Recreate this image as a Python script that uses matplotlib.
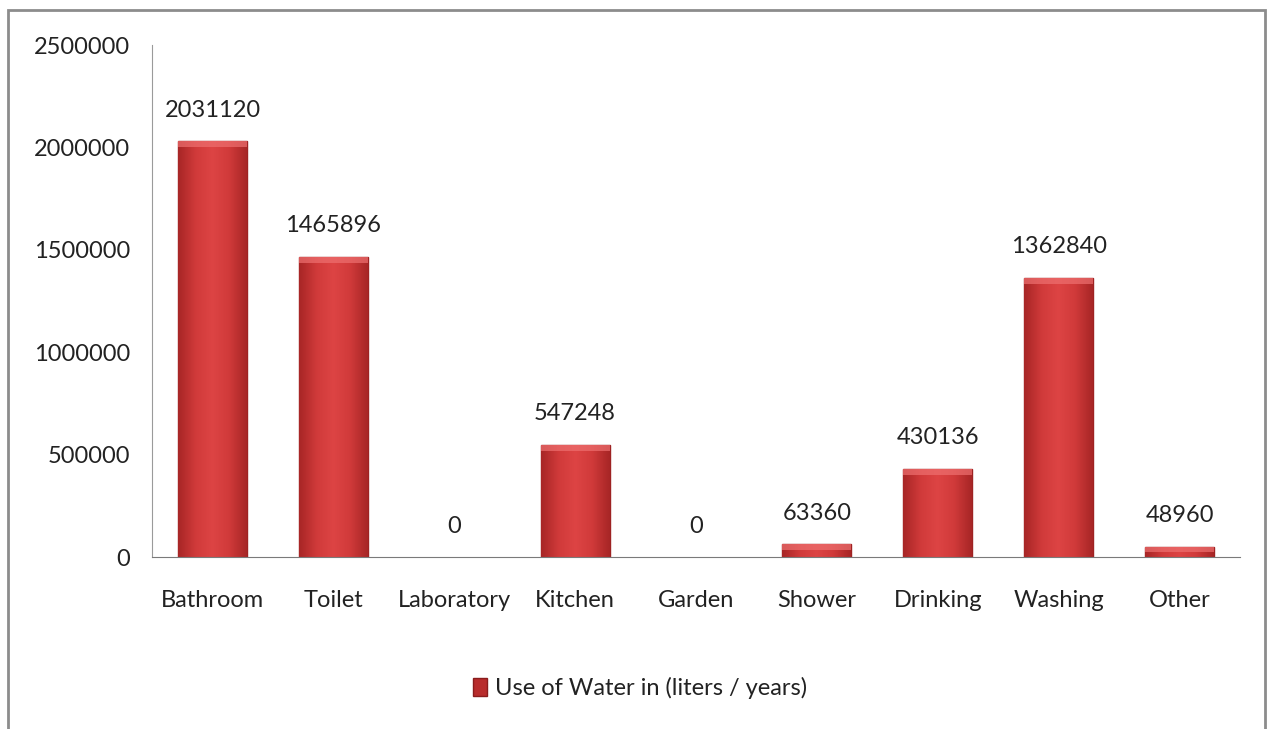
import numpy as np
import matplotlib.pyplot as plt
from matplotlib.colors import LinearSegmentedColormap
from matplotlib.patches import Rectangle, Patch

categories = ['Bathroom', 'Toilet', 'Laboratory', 'Kitchen', 'Garden',
              'Shower', 'Drinking', 'Washing', 'Other']
values = [2031120, 1465896, 0, 547248, 0, 63360, 430136, 1362840, 48960]
series_name = 'Use of Water in (liters / years)'
yticks = [0, 500000, 1000000, 1500000, 2000000, 2500000]

plt.rcParams['font.family'] = ['Lato', 'DejaVu Sans']
FS = 17

fig = plt.figure(figsize=(12.67, 7.29), dpi=100)
ax = fig.add_axes([152 / 1267, 1 - 557 / 729, 1088 / 1267, 512 / 729])

x = np.arange(len(categories))
bars = ax.bar(x, values, width=0.57, color='#d63b3b', edgecolor='#9e2222',
              linewidth=[1.0 if v > 0 else 0 for v in values], zorder=2)

# shaded fill: dark at the sides, bright in the middle
cmap = LinearSegmentedColormap.from_list(
    'bar', ['#a82626', '#d03a3a', '#dd4444', '#d03a3a', '#a82626'])
grad = np.tile(np.linspace(0, 1, 64), (64, 1))
for b in bars:
    h = b.get_height()
    if h <= 0:
        continue
    x0, w = b.get_x(), b.get_width()
    im = ax.imshow(grad, cmap=cmap, aspect='auto', zorder=2.5,
                   extent=(x0, x0 + w, 0, h), interpolation='bicubic')
    im.set_clip_path(b)
    # lighter bevel at the top of each bar
    cap = min(h * 0.5, 2500000 * 0.012)
    ax.add_patch(Rectangle((x0, h - cap), w, cap, facecolor='#ee7070',
                           edgecolor='none', alpha=0.7, zorder=2.6,
                           clip_path=b))

for xi, v in zip(x, values):
    ax.text(xi, v + 2500000 * 0.04, str(v), ha='center', va='bottom',
            fontsize=FS, color='#222222')

ax.set_xlim(-0.5, len(categories) - 0.5)
ax.set_ylim(0, 2500000)
ax.set_yticks(yticks)
ax.set_yticklabels([str(t) for t in yticks], fontsize=FS, color='#222222')
ax.set_xticks(x)
ax.set_xticklabels(categories, fontsize=FS, color='#222222')
ax.tick_params(axis='y', length=0, pad=16)
ax.tick_params(axis='x', length=0, pad=24)
for side in ['top', 'right']:
    ax.spines[side].set_visible(False)
ax.spines['left'].set_color('#9a9a9a')
ax.spines['bottom'].set_color('#7a7a7a')

handle = Patch(facecolor='#b82c2c', edgecolor='#8a1c1c')
fig.legend([handle], [series_name], loc='center',
           bbox_to_anchor=(640 / 1267, 1 - 688 / 729), frameon=False,
           fontsize=FS, handlelength=0.6, handleheight=0.8, handletextpad=0.3,
           labelcolor='#222222')

# outer chart frame, open at the bottom
fig.add_artist(Rectangle((8 / 1267, -0.05), 1257 / 1267, 1 - 10 / 729 + 0.05,
                         transform=fig.transFigure, fill=False,
                         edgecolor='#8c8c8c', linewidth=2.0))

fig.savefig('out.png', dpi=100)
